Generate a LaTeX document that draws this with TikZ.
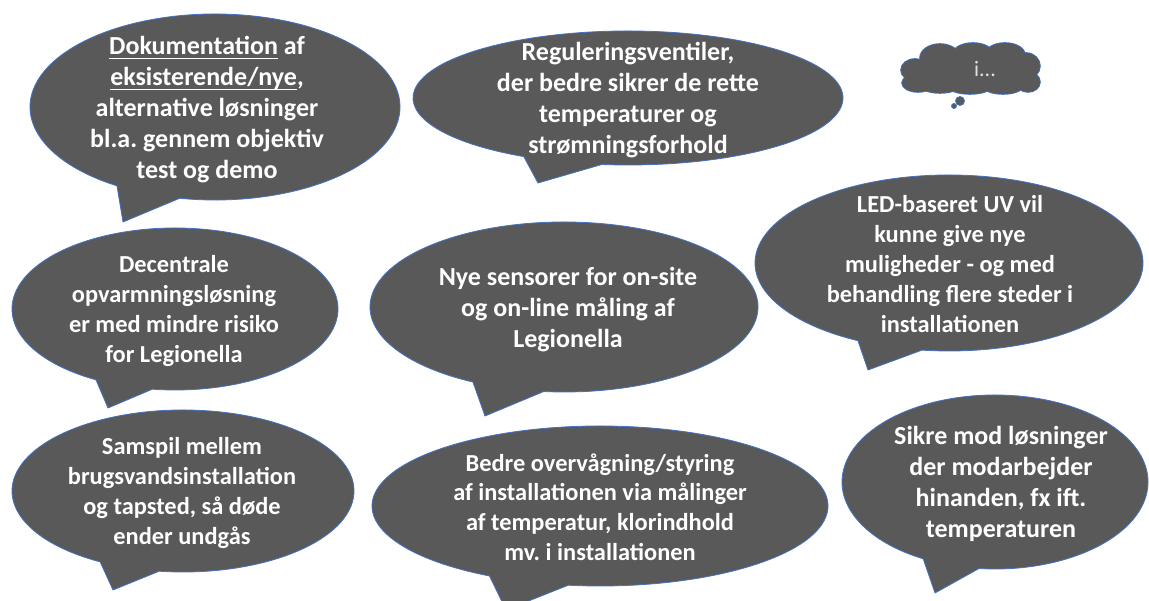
\documentclass[tikz,border=0pt]{standalone}
\usepackage{fontspec}
\setmainfont{Carlito}
\frenchspacing
\definecolor{bubblefill}{RGB}{89,89,89}
\definecolor{bubbleline}{RGB}{68,114,196}
\tikzset{
  bubble/.style={fill=bubblefill, draw=bubbleline, line width=0.8pt, line join=round},
  btext/.style={text=white, align=center, inner sep=0pt,
    font=\bfseries\fontsize{24.4}{29.8}\selectfont},
  bigtext/.style={btext, font=\bfseries\fontsize{26}{31}\selectfont},
  cloudpart/.style={fill=bubblefill},
  cloudedge/.style={draw=bubbleline, line width=1.6pt},
}
% underline drawn a little below the baseline
\newcommand\undl[1]{\setbox0\hbox{#1}\rlap{\rule[-5pt]{\wd0}{1.4pt}}\box0\relax}
% speech bubble: name, centre x, centre y, x radius, y radius,
% start angle (right side of the tail), end angle (left side of the tail + 360), tip
\newcommand\speechbubble[8]{%
  \coordinate (#1-c) at (#2,#3);
  \coordinate (#1-tip) at (#8);
  \path[bubble] (#1-c) ++(#6:#4 and #5)
    arc[start angle=#6, end angle=#7, x radius=#4, y radius=#5]
    -- (#1-tip) -- cycle;}
\begin{document}
\begin{tikzpicture}[x=1pt, y=1pt]
  \useasboundingbox (0,0) rectangle (1149,601);
  \fill[white] (0,0) rectangle (1149,601);
  \clip (0,0) rectangle (1149,601);

  % bubbles
  \speechbubble{b1}{215}{494}{185}{93}{259}{598}{123,379}
  \speechbubble{b2}{628}{503}{215}{67}{263}{601}{538,418}
  \speechbubble{b3}{175}{292}{163}{81}{262}{601}{108,193}
  \speechbubble{b4}{564}{294}{194}{85}{264}{602}{485,185}
  \speechbubble{b5}{949}{338}{194}{88}{262}{602}{868,231}
  \speechbubble{b6}{183}{110}{171}{81}{262}{601}{113,11}
  \speechbubble{b7}{600}{95}{228}{80}{262}{601}{506,-9}
  \speechbubble{b8}{995}{119}{153}{87}{264}{602}{935,8}

  % texts
  \node[bigtext] (t1) at (207,491.5) {\undl{Dokumentation} af\\\undl{eksisterende/nye},\\alternative løsninger\\bl.a. gennem objektiv\\test og demo};
  \node[bigtext] (t2) at (628,501) {Reguleringsventiler,\\der bedre sikrer de rette\\temperaturer og\\strømningsforhold};
  \node[btext] (t3) at (174,290) {Decentrale\\opvarmningsløsning\\er med mindre risiko\\for Legionella};
  \node[bigtext] (t4) at (568,291) {Nye sensorer for on-site\\og on-line måling af\\Legionella};
  \node[btext] (t5) at (950,337) {LED-baseret UV vil\\kunne give nye\\muligheder - og med\\behandling flere steder i\\installationen};
  \node[btext] (t6) at (182,108) {Samspil mellem\\brugsvandsinstallation\\og tapsted, så døde\\ender undgås};
  \node[btext] (t7) at (600,94) {Bedre overvågning/styring\\af installationen via målinger\\af temperatur, klorindhold\\mv. i installationen};
  \node[bigtext] (t8) at (1001,117) {Sikre mod løsninger\\der modarbejder\\hinanden, fx ift.\\temperaturen};

  % thought cloud
  \def\cloudlobes{915/531/14/11, 918/518/16/9, 940/543/20/14, 973/547/20/11,
    1005/546/20/12, 1026/535/14/13, 1028/519/12/10, 1003/515/20/8,
    970/515/22/8, 940/516/20/8, 970/531/55/17}
  \foreach \x/\y/\a/\b in \cloudlobes
    \path[cloudedge] (\x,\y) ellipse[x radius=\a, y radius=\b];
  \foreach \x/\y/\a/\b in \cloudlobes
    \path[cloudpart] (\x,\y) ellipse[x radius=\a, y radius=\b];
  \path[bubble] (960,500) circle[radius=4.5];
  \path[bubble] (954,495) circle[radius=2.5];
  \node[text=white!88!black, inner sep=0pt, font=\fontsize{22}{26}\selectfont] (cloudtext) at (985,532) {i...};
\end{tikzpicture}
\end{document}
